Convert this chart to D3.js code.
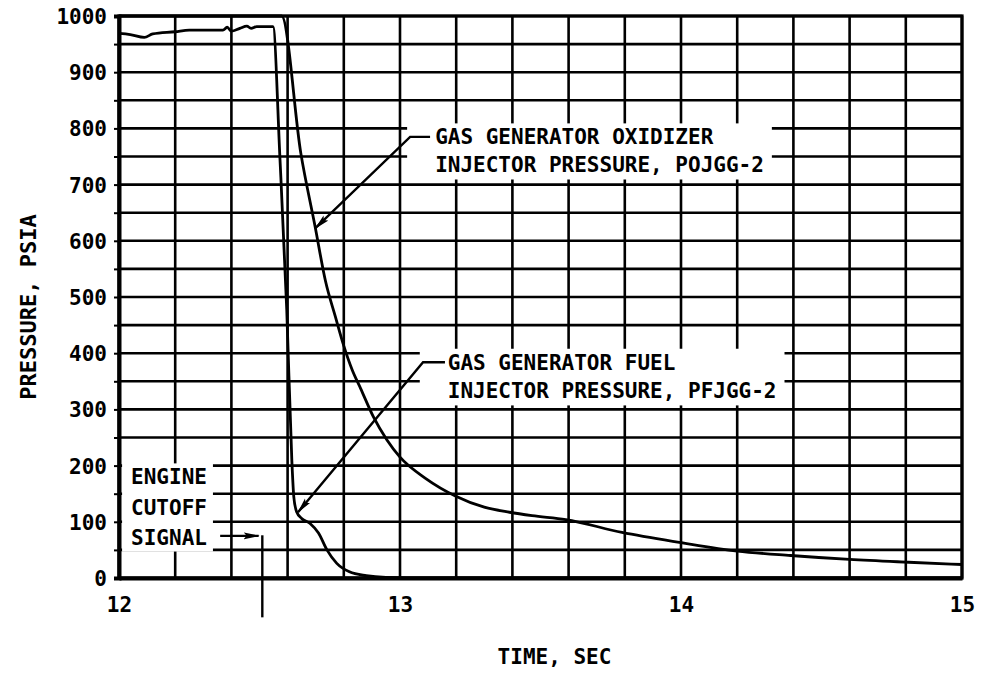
<!DOCTYPE html>
<html><head><meta charset="utf-8">
<script src="https://cdn.jsdelivr.net/npm/d3@7"></script>
<style>body{margin:0;background:#fff}</style>
</head><body>
<svg id="chart" width="986" height="677"></svg>
<script>
// ---- data ----
const fuelTime = [12.0, 12.04, 12.09, 12.12, 12.2, 12.25, 12.37, 12.385, 12.4, 12.43,
                  12.455, 12.47, 12.49, 12.548, 12.573, 12.597, 12.615, 12.622, 12.632, 12.65,
                  12.68, 12.71, 12.74, 12.775, 12.82, 12.88, 12.95, 13.1, 15.0];
const fuelPsia = [969, 967, 962, 968, 972, 975, 975, 980, 973, 978,
                  982, 978, 981, 981, 744, 477, 210, 145, 118, 106,
                  97, 80, 50, 26, 11, 4, 1, 0, 0];
const oxTime = [12.0, 12.579, 12.647, 12.698, 12.735, 12.77, 12.8, 12.83, 12.86, 12.905, 12.953,
                13.0, 13.092, 13.197, 13.30, 13.39, 13.47, 13.59, 13.79, 14.0, 14.2,
                14.39, 14.6, 14.81, 15.0];
const oxPsia = [1000, 1000, 756, 625, 528, 465, 413, 370, 337, 287, 246,
                215, 177, 146, 126, 117, 111, 104, 81, 63, 48,
                40, 33, 28, 24];
const xTickValues = [12, 13, 14, 15];
const xTickLabels = ["12", "13", "14", "15"];
const yTickValues = [0, 100, 200, 300, 400, 500, 600, 700, 800, 900, 1000];
const xGridValues = d3.range(0, 16).map(i => 12 + i * 0.2);
const yGridValues = d3.range(0, 21).map(i => i * 50);
const xTitle = "TIME, SEC";
const yTitle = "PRESSURE, PSIA";
const oxLabel = ["GAS GENERATOR OXIDIZER", "INJECTOR PRESSURE, POJGG-2"];
const fuelLabel = ["GAS GENERATOR FUEL", "INJECTOR PRESSURE, PFJGG-2"];
const cutoffLabel = ["ENGINE", "CUTOFF", "SIGNAL"];
// annotation anchors, data units [time, psia]
const oxLeader = [[13.107, 785], [13.036, 785], [12.698, 622]];
const oxTextAt = [[13.125, 785], [13.125, 735]];
const fuelLeader = [[13.16, 384], [13.082, 384], [12.637, 117]];
const fuelTextAt = [[13.17, 384], [13.17, 333]];
const cutoffTextAt = [[12.043, 180], [12.043, 126], [12.043, 73]];
const cutoffArrow = [[12.36, 75], [12.497, 75]];
const cutoffLine = [[12.51, 76], [12.51, -70]];

// ---- layout ----
const svg = d3.select("#chart");
const x = d3.scaleLinear().domain([12, 15]).range([119, 962]);
const y = d3.scaleLinear().domain([0, 1000]).range([578, 16]);
const FONT = "'DejaVu Sans Mono', monospace";

svg.append("rect").attr("width", 986).attr("height", 677).attr("fill", "#fff");

// arrow marker
const defs = svg.append("defs");
defs.append("marker").attr("id", "arr").attr("viewBox", "0 0 16 8")
  .attr("refX", 15).attr("refY", 4).attr("markerWidth", 16).attr("markerHeight", 8)
  .attr("markerUnits", "userSpaceOnUse").attr("orient", "auto")
  .append("path").attr("d", "M0,0.6 L16,4 L0,7.4 L3,4 Z").attr("fill", "#000");

// grid
const grid = svg.append("g").attr("stroke", "#000").attr("stroke-width", 2.6);
grid.selectAll("line.v").data(xGridValues).join("line").attr("class", "v")
  .attr("x1", d => x(d)).attr("x2", d => x(d)).attr("y1", y(1000)).attr("y2", y(0));
grid.selectAll("line.h").data(yGridValues).join("line").attr("class", "h")
  .attr("x1", x(12)).attr("x2", x(15)).attr("y1", d => y(d)).attr("y2", d => y(d));

// frame
svg.append("rect").attr("x", x(12)).attr("y", y(1000))
  .attr("width", x(15) - x(12)).attr("height", y(0) - y(1000))
  .attr("fill", "none").attr("stroke", "#000").attr("stroke-width", 3.2);

// y axis
const yAxis = svg.append("g").attr("transform", `translate(${x(12)},0)`)
  .call(d3.axisLeft(y).tickValues(yGridValues).tickSize(5).tickPadding(7)
    .tickFormat(d => yTickValues.includes(d) ? String(d) : ""));
yAxis.select(".domain").attr("stroke-width", 4);
yAxis.selectAll(".tick line").attr("stroke-width", 2);
yAxis.selectAll("text").attr("font-family", FONT).attr("font-size", 21)
  .attr("font-weight", "bold").attr("fill", "#000").attr("dy", "0.36em");

// x axis
const xAxis = svg.append("g").attr("transform", `translate(0,${y(0)})`)
  .call(d3.axisBottom(x).tickValues(xTickValues).tickSize(0).tickPadding(19)
    .tickFormat((d, i) => xTickLabels[i]));
xAxis.select(".domain").attr("stroke-width", 4);
xAxis.selectAll("text").attr("font-family", FONT).attr("font-size", 21)
  .attr("font-weight", "bold").attr("fill", "#000");

// axis titles
svg.append("text").attr("transform", `translate(28,${(y(0) + y(1000)) / 2 + 10}) rotate(-90)`)
  .attr("text-anchor", "middle").attr("dy", "0.36em").attr("font-weight", "bold")
  .attr("font-family", FONT).attr("font-size", 22).attr("fill", "#000").text(yTitle);
svg.append("text").attr("x", (x(12) + x(15)) / 2 + 14).attr("y", 656).attr("dy", "0.36em")
  .attr("text-anchor", "middle").attr("font-family", FONT).attr("font-size", 21)
  .attr("font-weight", "bold").attr("fill", "#000").text(xTitle);

// labels with white boxes
function label(lines, at, padL, padR) {
  const g = svg.append("g");
  const bg = g.append("rect").attr("fill", "#fff");
  g.selectAll("text").data(lines).join("text")
    .attr("x", (d, i) => x(at[i][0])).attr("y", (d, i) => y(at[i][1]))
    .attr("dy", "0.36em").attr("font-family", FONT).attr("font-size", 21)
    .attr("font-weight", "bold").attr("fill", "#000").text(d => d);
  const bb = g.node().getBBox();
  bg.attr("x", bb.x - padL).attr("y", bb.y - 2).attr("width", bb.width + padL + padR)
    .attr("height", bb.height + 4);
}
label(oxLabel, oxTextAt, 28, 8);
label(fuelLabel, fuelTextAt, 28, 8);
label(cutoffLabel, cutoffTextAt, 9, 6);

// curves
const line = d3.line().x(d => x(d[0])).y(d => y(d[1])).curve(d3.curveMonotoneX);
svg.append("path").datum(fuelTime.map((t, i) => [t, fuelPsia[i]]))
  .attr("d", line).attr("fill", "none").attr("stroke", "#000").attr("stroke-width", 2.8);
svg.append("path").datum(oxTime.map((t, i) => [t, oxPsia[i]]))
  .attr("d", line).attr("fill", "none").attr("stroke", "#000").attr("stroke-width", 2.8);

// leaders
const straight = d3.line().x(d => x(d[0])).y(d => y(d[1]));
[oxLeader, fuelLeader, cutoffArrow].forEach(pts => {
  svg.append("path").attr("d", straight(pts)).attr("fill", "none")
    .attr("stroke", "#000").attr("stroke-width", 2.4).attr("marker-end", "url(#arr)");
});
svg.append("path").attr("d", straight(cutoffLine)).attr("stroke", "#000").attr("stroke-width", 2.4);
</script>
</body></html>
